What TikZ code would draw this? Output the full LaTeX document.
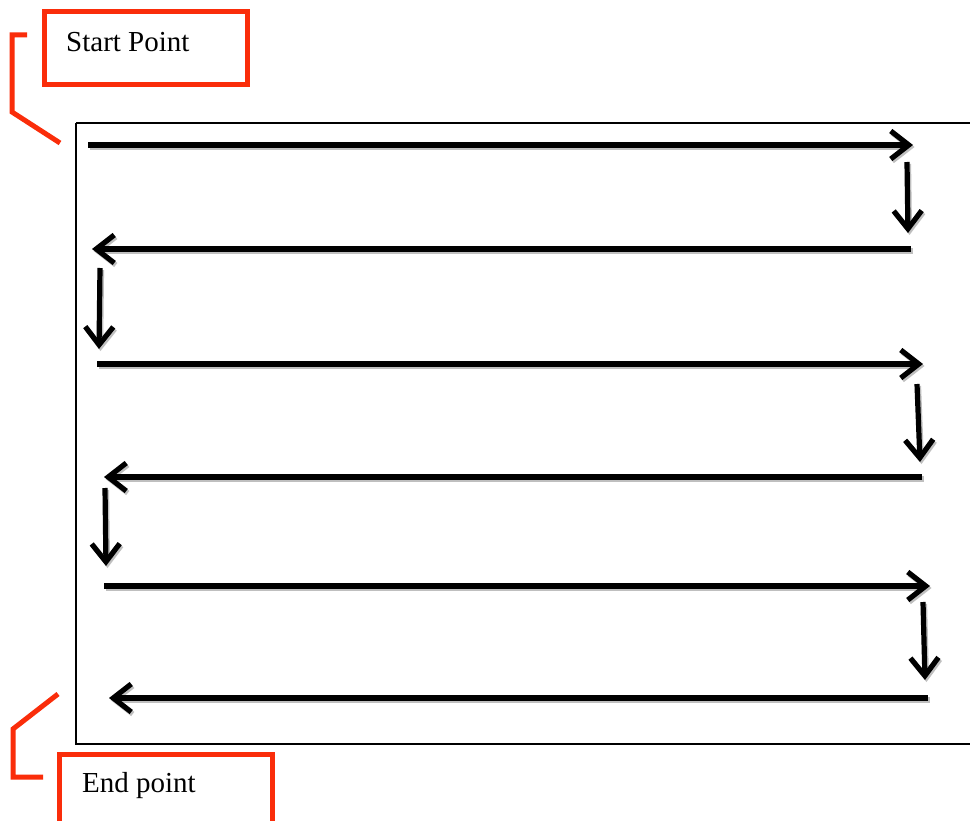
\documentclass[tikz,border=0pt]{standalone}
\usepackage{fontspec}
\setmainfont{Liberation Serif}
\usetikzlibrary{arrows.meta}
\begin{document}
\begin{tikzpicture}[x=1pt,y=-1pt,
  redline/.style={draw={rgb,255:red,250;green,45;blue,10}, line width=5pt},
  frameline/.style={draw=black, line width=2pt},
  flow/.style={draw=black, line width=5.2pt, line cap=butt,
    -{Straight Barb[length=18pt,width=28pt]},
    preaction={draw=black!25, line width=5.2pt, transform canvas={shift={(1.5pt,-2pt)}},
      -{Straight Barb[length=18pt,width=28pt]}}},
  lbl/.style={font=\fontsize{29}{34}\selectfont, inner sep=0pt, anchor=base west}]
\useasboundingbox (0,0) rectangle (970,821);
\fill[white] (0,0) rectangle (970,821);
% main frame
\draw[frameline] (76,123) -- (975,123);
\draw[frameline] (76,123) -- (76,744) -- (975,744);
% start label
\draw[redline] (44.5,11.5) rectangle (247.5,84.5);
\node[lbl] (start) at (66,52) {Start Point};
\coordinate (s1) at (27,35);
\coordinate (s2) at (12,35);
\coordinate (s3) at (12,112);
\coordinate (s4) at (60,143);
\draw[redline, line join=miter] (s1) -- (s2) -- (s3) -- (s4);
% end label
\draw[redline] (59.5,830) -- (59.5,754.5) -- (272.5,754.5) -- (272.5,830);
\node[lbl] (end) at (82,792) {End point};
\coordinate (e1) at (58,694);
\coordinate (e2) at (13,729);
\coordinate (e3) at (13,777);
\coordinate (e4) at (43,777);
\draw[redline, line join=miter] (e1) -- (e2) -- (e3) -- (e4);
% serpentine arrows
\coordinate (a1) at (88,145);  \coordinate (b1) at (913,145);
\coordinate (c1) at (907,162); \coordinate (d1) at (908,233);
\coordinate (a2) at (911,249); \coordinate (b2) at (92,249);
\coordinate (c2) at (100,268); \coordinate (d2) at (99,349);
\coordinate (a3) at (97,364);  \coordinate (b3) at (923,364);
\coordinate (c3) at (917,384); \coordinate (d3) at (920,462);
\coordinate (a4) at (922,477); \coordinate (b4) at (104,477);
\coordinate (c4) at (105,488); \coordinate (d4) at (106,566);
\coordinate (a5) at (104,586); \coordinate (b5) at (930,586);
\coordinate (c5) at (923,602); \coordinate (d5) at (925,680);
\coordinate (a6) at (928,698); \coordinate (b6) at (109,698);
\draw[flow] (a1) -- (b1);
\draw[flow] (c1) -- (d1);
\draw[flow] (a2) -- (b2);
\draw[flow] (c2) -- (d2);
\draw[flow] (a3) -- (b3);
\draw[flow] (c3) -- (d3);
\draw[flow] (a4) -- (b4);
\draw[flow] (c4) -- (d4);
\draw[flow] (a5) -- (b5);
\draw[flow] (c5) -- (d5);
\draw[flow] (a6) -- (b6);
\end{tikzpicture}
\end{document}
